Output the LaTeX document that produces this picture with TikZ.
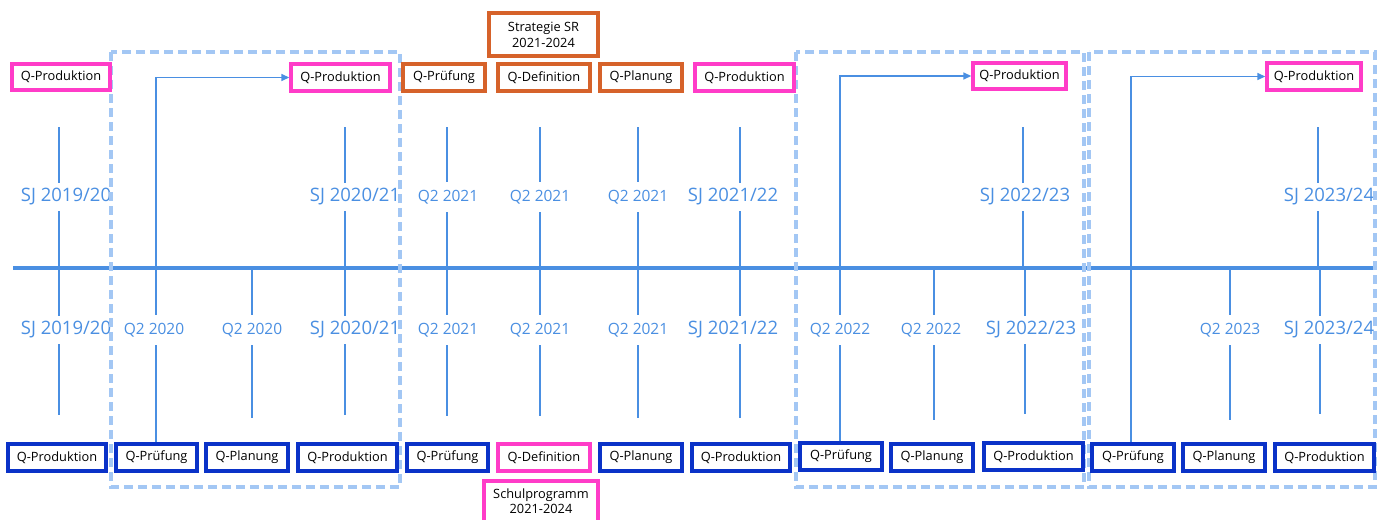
\documentclass[tikz,border=0pt]{standalone}
\usepackage{fontspec}
\setmainfont{Open Sans}
\usetikzlibrary{arrows.meta}
\definecolor{pinkc}{HTML}{FF3CC8}
\definecolor{orangec}{HTML}{D6622A}
\definecolor{darkb}{HTML}{0A32C8}
\definecolor{lineb}{HTML}{4A8FE2}
\definecolor{dashb}{HTML}{A3C7F4}
\tikzset{
  qbox/.style={draw, line width=3.4pt, fill=white, inner sep=0pt, font=\fontsize{12.5}{14}\selectfont, text=black},
  pinkbox/.style={qbox, draw=pinkc},
  orangebox/.style={qbox, draw=orangec},
  bluebox/.style={qbox, draw=darkb},
  boxtext/.style={font=\fontsize{12.8}{14}\selectfont, text=black},
  tick/.style={draw=lineb, line width=1.4pt},
  sjlab/.style={fill=white, text=lineb, inner xsep=0pt, inner ysep=6pt, font=\fontsize{18.5}{21}\selectfont},
  qlab/.style={fill=white, text=lineb, inner xsep=0pt, inner ysep=8pt, font=\fontsize{15.5}{18}\selectfont},
  period/.style={draw=dashb, line width=3.2pt, dash pattern=on 9pt off 5pt},
  arr/.style={draw=lineb, line width=1.5pt, -{Triangle[length=8pt,width=7pt]}},
}
\newcommand{\bx}[6]{\node[#1, minimum width=#4-#3, minimum height=#6-#5] (#2) at ({(#3+#4)/2},{(#5+#6)/2}) {};}
\begin{document}
\begin{tikzpicture}[x=1pt,y=-1pt]
\useasboundingbox (0,0) rectangle (1380,519);
% main timeline
\coordinate (tl0) at (13,268);
\coordinate (tl1) at (1375,268);
\draw[lineb, line width=3.6pt] (tl0) -- (tl1);
% top ticks
\foreach \tx/\lx/\txt/\sty [count=\i] in {59/66/SJ 2019\slash 20/sjlab, 345/355/SJ 2020\slash 21/sjlab, 447/448/Q2 2021/qlab, 540/540/Q2 2021/qlab, 638/638/Q2 2021/qlab, 740/733/SJ 2021\slash 22/sjlab, 1023/1025/SJ 2022\slash 23/sjlab, 1318/1329/SJ 2023\slash 24/sjlab}{
  \coordinate (ut\i) at (\tx,127);
  \coordinate (ub\i) at (\tx,268);
  \draw[tick] (ut\i) -- (ub\i);
  \node[\sty] (ul\i) at (\lx,197) {\txt};
}
% bottom ticks
\foreach \tx/\lx/\txt/\sty/\ty [count=\i] in {59/66/SJ 2019\slash 20/sjlab/415, 252/252/Q2 2020/qlab/418, 345/355/SJ 2020\slash 21/sjlab/415, 447/448/Q2 2021/qlab/416, 540/540/Q2 2021/qlab/416, 638/638/Q2 2021/qlab/418, 740/733/SJ 2021\slash 22/sjlab/418, 934/931/Q2 2022/qlab/420, 1025/1031/SJ 2022\slash 23/sjlab/414, 1230/1230/Q2 2023/qlab/420, 1320/1329/SJ 2023\slash 24/sjlab/414}{
  \coordinate (lt\i) at (\tx,268);
  \coordinate (lb\i) at (\tx,\ty);
  \draw[tick] (lt\i) -- (lb\i);
  \node[\sty] (ll\i) at (\lx,330) {\txt};
}
% period frames
\draw[period] (111,52) rectangle (400,487);
\draw[period] (796,52) rectangle (1084,487);
\draw[period] (1089,52) rectangle (1375,487);
% top boxes
\bx{pinkbox}{tp1}{12}{110}{64}{90}
\bx{pinkbox}{tp2}{291}{390}{64}{91}
\bx{orangebox}{to1}{403}{485}{64}{91}
\bx{orangebox}{to2}{498}{590}{64}{91}
\bx{orangebox}{to3}{600}{682}{64}{91}
\bx{pinkbox}{tp3}{695}{794}{64}{91}
\bx{pinkbox}{tp4}{973}{1066}{63}{89}
\bx{pinkbox}{tp5}{1267}{1361}{63}{90}
\foreach \n/\t in {tp1/Q-Produktion, tp2/Q-Produktion, to1/Q-Prüfung, to2/Q-Definition, to3/Q-Planung, tp3/Q-Produktion, tp4/Q-Produktion, tp5/Q-Produktion}{
  \node[boxtext] (\n t) at (\n) {\t};
}
\bx{orangebox}{strat}{489}{598}{13}{56}
\node[boxtext, align=center, font=\fontsize{12.8}{16}\selectfont] (stratt) at (strat) {Strategie SR\\2021-2024};
% bottom boxes
\bx{bluebox}{b1}{8}{106}{444}{471}
\bx{bluebox}{b2}{116}{197}{444}{471}
\bx{bluebox}{b3}{206}{288}{444}{471}
\bx{bluebox}{b4}{298}{397}{444}{471}
\bx{bluebox}{b5}{407}{488}{444}{471}
\bx{pinkbox}{b6}{498}{590}{444}{471}
\bx{bluebox}{b7}{600}{682}{444}{471}
\bx{bluebox}{b8}{692}{790}{444}{471}
\bx{bluebox}{b9}{800}{882}{443}{470}
\bx{bluebox}{b10}{891}{973}{444}{471}
\bx{bluebox}{b11}{984}{1083}{443}{470}
\bx{bluebox}{b12}{1092}{1174}{444}{471}
\bx{bluebox}{b13}{1183}{1265}{444}{471}
\bx{bluebox}{b14}{1275}{1374}{444}{471}
\foreach \n/\t in {b1/Q-Produktion, b2/Q-Prüfung, b3/Q-Planung, b4/Q-Produktion, b5/Q-Prüfung, b6/Q-Definition, b7/Q-Planung, b8/Q-Produktion, b9/Q-Prüfung, b10/Q-Planung, b11/Q-Produktion, b12/Q-Prüfung, b13/Q-Planung, b14/Q-Produktion}{
  \node[boxtext] (\n t) at (\n) {\t};
}
\bx{pinkbox}{schul}{484}{598}{481}{530}
\node[boxtext, align=center, font=\fontsize{12.8}{15}\selectfont] (schult) at (541,501) {Schulprogramm\\2021-2024};
% arrows
\draw[arr] (b2.north -| 156,0) |- (tp2.west);
\draw[arr] (b9.north -| 840,0) |- (tp4.west);
\draw[arr] (b12.north -| 1131,0) |- (tp5.west);
% labels crossed by arrows
\node[qlab] (la1) at (154,330) {Q2 2020};
\node[qlab] (la2) at (840,330) {Q2 2022};
\end{tikzpicture}
\end{document}
